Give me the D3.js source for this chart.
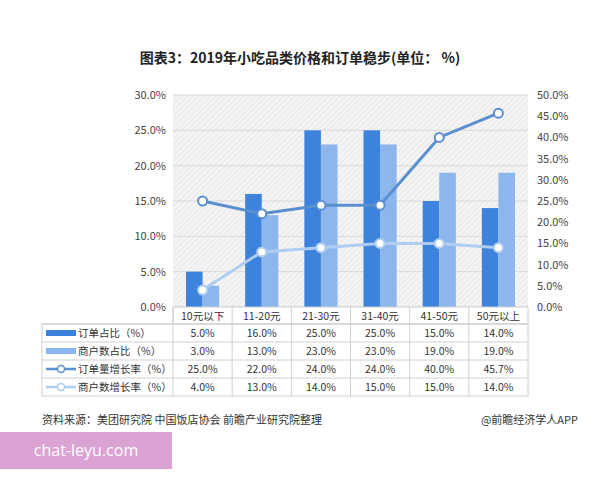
<!DOCTYPE html>
<html><head><meta charset="utf-8">
<script src="https://cdn.jsdelivr.net/npm/d3@7"></script>
<style>body{margin:0;background:#fff;font-family:"Noto Sans CJK SC","Noto Sans",sans-serif}</style>
</head><body>
<svg id="c" width="600" height="480"></svg>
<script>
const categories = ["10元以下","11-20元","21-30元","31-40元","41-50元","50元以上"];
const orderShare = [5, 16, 25, 25, 15, 14];
const merchantShare = [3, 13, 23, 23, 19, 19];
const orderGrowth = [25, 22, 24, 24, 40, 45.7];
const merchantGrowth = [4, 13, 14, 15, 15, 14];
const leftTicks = [0, 5, 10, 15, 20, 25, 30];
const rightTicks = [0, 5, 10, 15, 20, 25, 30, 35, 40, 45, 50];

const svg = d3.select("#c");
const font = "'Noto Sans CJK SC', sans-serif";
const L = 173, R = 528, T = 95, B = 307;
const x = d3.scaleBand().domain(categories).range([L, R]);
const yL = d3.scaleLinear().domain([0, 30]).range([B, T]);
const yR = d3.scaleLinear().domain([0, 50]).range([B, T]);
const c1 = "#3d82dc", c2 = "#8db6ec", l1 = "#5a8fd0", l2 = "#afcdf0";

svg.append("text").attr("x", 300).attr("y", 63).attr("text-anchor", "middle")
  .attr("font-family", font).attr("font-weight", "bold").attr("font-size", 14).attr("fill", "#222")
  .text("图表3：2019年小吃品类价格和订单稳步(单位： %)");

const defs = svg.append("defs");
const pat = defs.append("pattern").attr("id", "hatch").attr("width", 4).attr("height", 4)
  .attr("patternUnits", "userSpaceOnUse").attr("patternTransform", "rotate(45)");
pat.append("rect").attr("width", 4).attr("height", 4).attr("fill", "#f4f4f4");
pat.append("line").attr("x1", 0).attr("y1", 0).attr("x2", 0).attr("y2", 4).attr("stroke", "#dcdcdc").attr("stroke-width", 1);
svg.append("rect").attr("x", L).attr("y", T).attr("width", R - L).attr("height", B - T).attr("fill", "url(#hatch)");

svg.append("g").selectAll("line").data(leftTicks).join("line")
  .attr("x1", L).attr("x2", R).attr("y1", d => yL(d)).attr("y2", d => yL(d))
  .attr("stroke", "#d8d8d8");

svg.append("g").attr("transform", `translate(${L - 4},0)`)
  .call(d3.axisLeft(yL).tickValues(leftTicks).tickFormat(d => d.toFixed(1) + "%").tickSize(0))
  .call(g => g.select(".domain").remove())
  .call(g => g.selectAll("text").attr("font-size", 11).attr("fill", "#444").attr("font-family", font));
svg.append("g").attr("transform", `translate(${R + 6},0)`)
  .call(d3.axisRight(yR).tickValues(rightTicks).tickFormat(d => d.toFixed(1) + "%").tickSize(0))
  .call(g => g.select(".domain").remove())
  .call(g => g.selectAll("text").attr("font-size", 11).attr("fill", "#444").attr("font-family", font));

const bw = x.bandwidth() * 0.28;
const bars = svg.append("g");
bars.selectAll(".a").data(orderShare).join("rect")
  .attr("x", (d, i) => x(categories[i]) + x.bandwidth() / 2 - bw).attr("width", bw)
  .attr("y", d => yL(d)).attr("height", d => B - yL(d)).attr("fill", c1);
bars.selectAll(".b").data(merchantShare).join("rect")
  .attr("x", (d, i) => x(categories[i]) + x.bandwidth() / 2).attr("width", bw)
  .attr("y", d => yL(d)).attr("height", d => B - yL(d)).attr("fill", c2);

const cx = i => x(categories[i]) + x.bandwidth() / 2;
[[orderGrowth, l1], [merchantGrowth, l2]].forEach(([vals, col]) => {
  svg.append("path").datum(vals).attr("fill", "none").attr("stroke", col).attr("stroke-width", 3)
    .attr("d", d3.line().x((d, i) => cx(i)).y(d => yR(d)));
  svg.append("g").selectAll("circle").data(vals).join("circle")
    .attr("cx", (d, i) => cx(i)).attr("cy", d => yR(d)).attr("r", 4.5)
    .attr("fill", "#fff").attr("stroke", col).attr("stroke-width", 2);
});

// data table
const rows = [
  {name: "订单占比（%）", vals: orderShare, col: c1, type: "bar"},
  {name: "商户数占比（%）", vals: merchantShare, col: c2, type: "bar"},
  {name: "订单量增长率（%）", vals: orderGrowth, col: l1, type: "line"},
  {name: "商户数增长率（%）", vals: merchantGrowth, col: l2, type: "line"}
];
const TL = 42, rh = 18, hy = B, ty = B + 17;
const tbl = svg.append("g").attr("font-family", font).attr("font-size", 10.5).attr("fill", "#333");
tbl.append("rect").attr("x", L).attr("y", hy).attr("width", R - L).attr("height", ty - hy).attr("fill", "#fff").attr("stroke", "#d0d0d0");
tbl.append("rect").attr("x", TL).attr("y", ty).attr("width", R - TL).attr("height", rh * 4).attr("fill", "#fff").attr("stroke", "#d0d0d0");
rows.forEach((r, k) => tbl.append("line").attr("x1", TL).attr("x2", R).attr("y1", ty + rh * k).attr("y2", ty + rh * k).attr("stroke", "#d0d0d0"));
categories.forEach((c, i) => {
  tbl.append("line").attr("x1", x(c)).attr("x2", x(c)).attr("y1", hy).attr("y2", ty + rh * 4).attr("stroke", "#d0d0d0");
  tbl.append("text").attr("x", cx(i)).attr("y", hy + 12.5).attr("text-anchor", "middle").text(c);
});
rows.forEach((r, k) => {
  const yy = ty + rh * k + rh / 2;
  if (r.type === "bar") tbl.append("rect").attr("x", TL + 4).attr("y", yy - 3).attr("width", 30).attr("height", 6).attr("fill", r.col);
  else {
    tbl.append("line").attr("x1", TL + 4).attr("x2", TL + 34).attr("y1", yy).attr("y2", yy).attr("stroke", r.col).attr("stroke-width", 2.5);
    tbl.append("circle").attr("cx", TL + 19).attr("cy", yy).attr("r", 3.5).attr("fill", "#fff").attr("stroke", r.col).attr("stroke-width", 1.5);
  }
  tbl.append("text").attr("x", TL + 36).attr("y", yy + 4).text(r.name);
  r.vals.forEach((v, i) => tbl.append("text").attr("x", cx(i)).attr("y", yy + 4).attr("text-anchor", "middle").text(v.toFixed(1) + "%"));
});

svg.append("text").attr("x", 42).attr("y", 424).attr("font-family", font).attr("font-size", 11).attr("fill", "#333")
  .text("资料来源：美团研究院 中国饭店协会  前瞻产业研究院整理");
svg.append("text").attr("x", 578).attr("y", 424).attr("text-anchor", "end").attr("font-family", font).attr("font-size", 11).attr("fill", "#333")
  .text("@前瞻经济学人APP");

svg.append("rect").attr("x", 0).attr("y", 432).attr("width", 172).attr("height", 37).attr("fill", "#dba3d3");
svg.append("text").attr("x", 86).attr("y", 456).attr("text-anchor", "middle").attr("font-family", "'Open Sans', sans-serif")
  .attr("font-size", 16).attr("fill", "#fff").text("chat-leyu.com");
</script>
</body></html>
